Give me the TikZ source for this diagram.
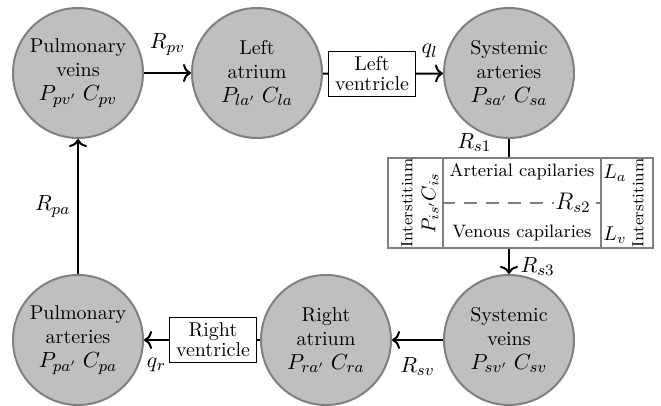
\documentclass[tikz,border=0pt]{standalone}
\usetikzlibrary{arrows.meta}
\definecolor{compFill}{gray}{0.75}
\definecolor{compBorder}{gray}{0.5}
\newcommand{\lblsize}{\fontsize{11}{13.5}\selectfont}

\begin{document}
\begin{tikzpicture}
[x=0.5pt, y=-0.5pt,
  compartment/.style={circle, draw=compBorder, fill=compFill, line width=1pt,
    minimum size=65pt, inner sep=0pt, align=center},%
  pumpBox/.style={draw, line width=0.6pt, fill=white, align=center,
    inner sep=1pt, minimum width=43.5pt, minimum height=22.5pt},%
  capBox/.style={draw=compBorder, line width=0.8pt, minimum height=45pt, inner sep=0pt},%
  flowArrow/.style={line width=1pt, -{To[length=4pt,width=9pt]}},%
  flowLink/.style={line width=1pt},%
  flowLabel/.style={font=\lblsize}]
\useasboundingbox (0,0) rectangle (661,406);
%% compartments
\foreach \nodename/\name/\sub/\x/\y in {
  pv/Pulmonary\\veins/pv/78/73, la/Left\\atrium/la/257/73,
  sa/Systemic\\arteries/sa/509/73, pa/Pulmonary\\arteries/pa/78/340,
  ra/Right\\atrium/ra/326/340, sv/Systemic\\veins/sv/509/340}
{
  \node (\nodename) at (\x,\y) [compartment] {\name\\{\lblsize$P_{\sub'}\;C_{\sub}$}};
}
%% ventricles
\node (lv) at (372,74) [pumpBox] {Left\\[-2pt]ventricle};
\node (rv) at (213,340) [pumpBox] {Right\\[-2pt]ventricle};
%% capillary bed
\node (isl) at (415.5,203) [capBox, minimum width=27.5pt] {};
\node (cap) at (522,203) [capBox, minimum width=79pt] {};
\node (isr) at (627,203) [capBox, minimum width=26pt] {};
\node (artTxt) at (522,172) {\small Arterial capilaries};
\node (venTxt) at (522,233) {\small Venous capilaries};
\node (isTxtL) at (407,203) [rotate=90, font=\footnotesize] {Interstitium};
\node (isPar) at (430,203) [rotate=90] {$P_{is'}C_{is}$};
\node (isTxtR) at (638,203) [rotate=90, font=\footnotesize] {Interstitium};
\node (lA) at (615,173) {$L_a$};
\node (lV) at (615,235) {$L_v$};
\draw[compBorder, line width=1pt, dash pattern=on 6.5pt off 4.5pt] (cap.west) -- (cap.east)
  node[pos=0.82, fill=white, inner sep=0.5pt, text=black, font=\large] {$R_{s2}$};
%% flows
\path
\foreach \startnode/\endnode/\decor/\lab/\side/\gap in {
  pv/la/flowArrow/$R_{pv}$/above/5pt, la/lv/flowLink//above/0pt,
  lv/sa/flowArrow/$q_l$/above/4pt, sv/ra/flowArrow/$R_{sv}$/below/5pt,
  ra/rv/flowLink//above/0pt, rv/pa/flowArrow/$q_r$/below/5pt,
  pa/pv/flowArrow/$R_{pa}$/left/0pt}
{
  (\startnode) edge[\decor] node[flowLabel, \side=\gap] {\lab} (\endnode)
};
\draw[flowLink] (sa) -- (sa |- cap.north) node[flowLabel, pos=0.2, left=5pt] {$R_{s1}$};
\draw[flowArrow] (sa |- cap.south) -- (sv) node[flowLabel, pos=0.7, right=2pt] {$R_{s3}$};
\end{tikzpicture}
\end{document}
